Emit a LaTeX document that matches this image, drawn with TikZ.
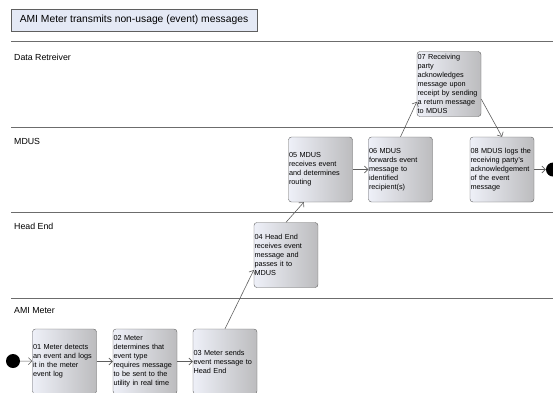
\documentclass[tikz,border=0pt]{standalone}
\usepackage{fontspec}
\setmainfont{Liberation Sans}
\usetikzlibrary{arrows.meta}
\definecolor{boxleft}{RGB}{238,240,248}
\definecolor{boxright}{RGB}{188,188,190}
\definecolor{edgegray}{RGB}{95,95,95}
\definecolor{titlefill}{RGB}{228,233,245}
\begin{document}
\begin{tikzpicture}[x=1pt, y=-1pt,
        stepbox/.style={draw=edgegray, rounded corners=3pt, left color=boxleft, right color=boxright,
            minimum width=64pt, minimum height=65pt, text width=63pt, inner xsep=0.5pt, inner ysep=1pt, align=left,
            font=\fontsize{7.3}{9}\selectfont},
        lane/.style={draw=gray!85!black, line width=1pt},
        lanelabel/.style={anchor=west, inner sep=0pt, font=\fontsize{8.8}{10}\selectfont},
        flow/.style={draw=edgegray, line width=0.6pt, -{Straight Barb[length=3.5pt, width=7pt]}},
        dot/.style={circle, fill=black, minimum size=14pt, inner sep=0pt}]
                \useasboundingbox (0, 0) rectangle (553, 392);

                % title
                \node[draw=edgegray, fill=titlefill, minimum width=246pt, minimum height=22pt,
                    font=\fontsize{10.3}{12}\selectfont] (title) at (134, 20) {AMI Meter transmits non-usage (event) messages};

                % swimlanes
                \draw[lane] (11, 41) -- (553, 41);
                \draw[lane] (11, 127) -- (553, 127);
                \draw[lane] (11, 212) -- (553, 212);
                \draw[lane] (11, 298) -- (553, 298);
                \node[lanelabel] (ldata) at (14, 57) {Data Retreiver};
                \node[lanelabel] (lmdus) at (14, 141) {MDUS};
                \node[lanelabel] (lhead) at (14, 226) {Head End};
                \node[lanelabel] (lmeter) at (14, 311) {AMI Meter};

                % steps
                \node[dot] (start) at (13, 361) {};
                \node[stepbox] (s01) at (64.5, 361.5) {01 Meter detects\\an event and logs\\it in the meter\\event log};
                \node[stepbox] (s02) at (145, 361.5) {02 Meter\\determines that\\event type\\requires message\\to be sent to the\\utility in real time};
                \node[stepbox] (s03) at (225, 361.5) {03 Meter sends\\event message to\\Head End};
                \node[stepbox] (s04) at (286, 255) {04 Head End\\receives event\\message and\\passes it to\\MDUS};
                \node[stepbox] (s05) at (320.5, 169.5) {05 MDUS\\receives event\\and determines\\routing};
                \node[stepbox] (s06) at (400.5, 169.5) {06 MDUS\\forwards event\\message to\\identified\\recipient(s)};
                \node[stepbox] (s07) at (449, 84) {07 Receiving\\party\\acknowledges\\message upon\\receipt by sending\\a return message\\to MDUS};
                \node[stepbox] (s08) at (502, 169.5) {08 MDUS logs the\\receiving party's\\acknowledgement\\of the event\\message};
                \node[dot] (stop) at (553, 169.5) {};

                % flow
                \draw[flow] (start) -- (s01);
                \draw[flow] (s01) -- (s02);
                \draw[flow] (s02) -- (s03);
                \draw[flow] (s03.north) -- (s04.205);
                \draw[flow] (s04.north) -- (s05.243);
                \draw[flow] (s05) -- (s06);
                \draw[flow] (s06.north) -- (s07.209);
                \draw[flow] (s07.-25) -- (s08.north);
                \draw[flow] (s08) -- (stop);
            \end{tikzpicture}
\end{document}
